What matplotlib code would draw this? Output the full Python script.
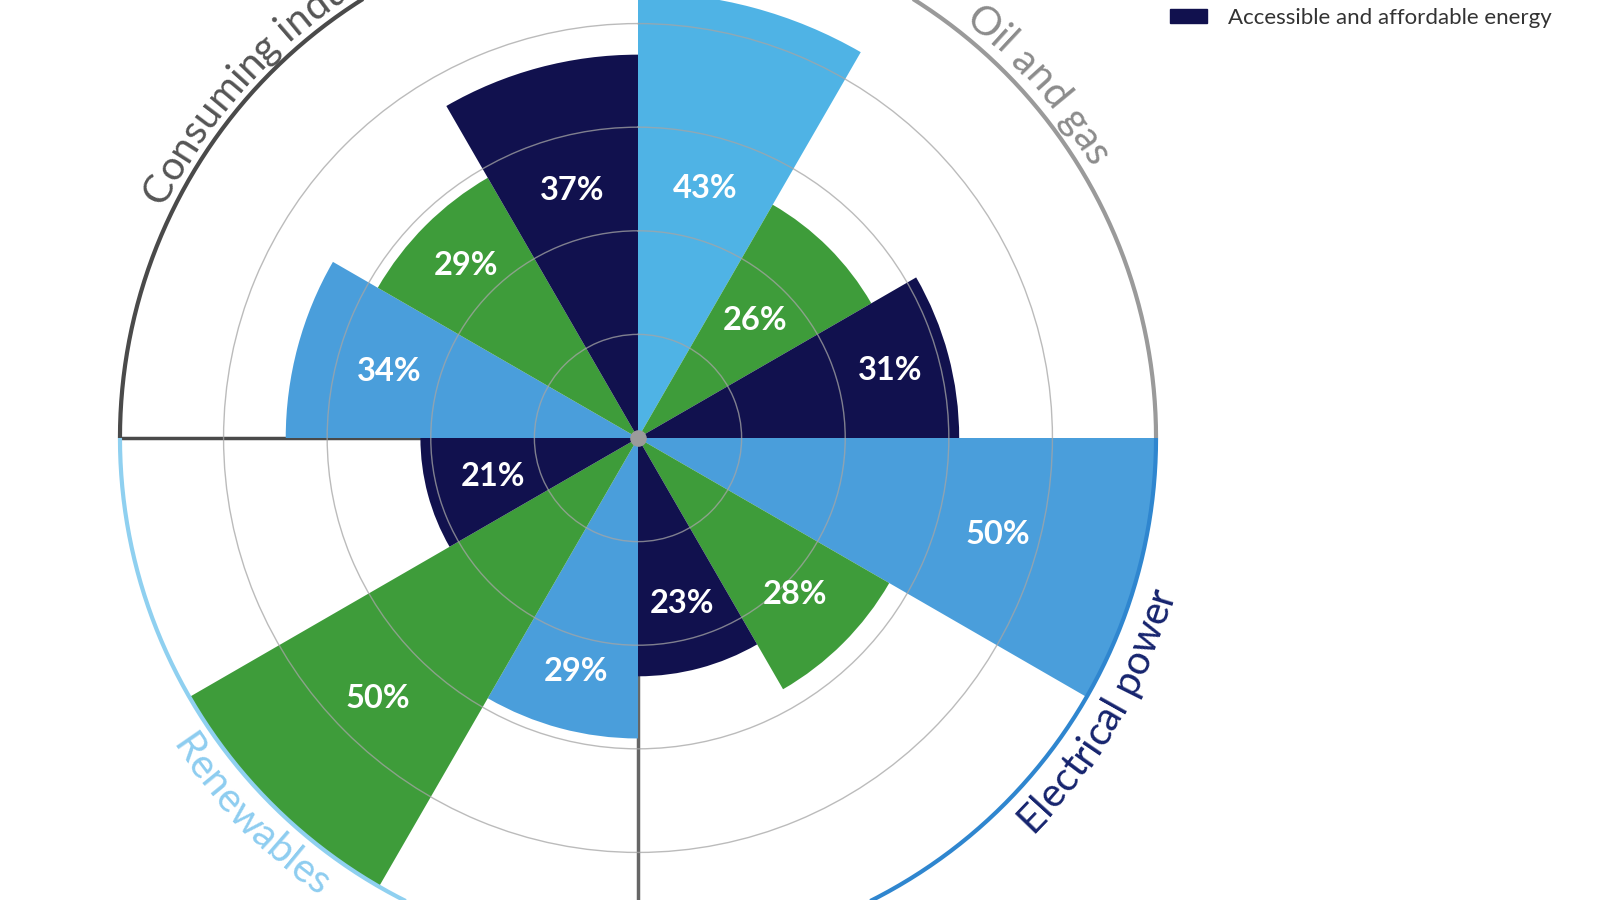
import numpy as np
import matplotlib
matplotlib.use('Agg')
import matplotlib.pyplot as plt
from matplotlib.patches import Patch
from matplotlib import font_manager
from matplotlib.font_manager import FontProperties

plt.rcParams['font.family'] = ['Lato', 'DejaVu Sans']

# data (clockwise from north: one quadrant per sector, three bars each)
sectors = ['Oil and gas', 'Electrical power', 'Renewables', 'Consuming industries']
blue_vals = [43, 50, 29, 34]
green_vals = [26, 28, 50, 29]
navy_vals = [31, 23, 21, 37]
navy_name = 'Accessible and affordable energy'

# layout / style
blue_cols = ['#4fb3e5', '#4a9edb', '#4a9edb', '#4a9edb']
green_col = '#3e9c3a'
navy_col = '#11114e'
arc_cols = ['#9a9a9a', '#2f86cf', '#8fd0f0', '#4a4a4a']
text_cols = ['#8c8c8c', '#16246e', '#8ecdf0', '#555555']
label_r = [[24.9, 36.0, 23.3, 24.9],   # blue
           [16.0, 21.4, 35.5, 23.5],   # green
           [25.2, 16.5, 14.5, 24.7]]   # navy

R_MAX = 54.05
AX_PX = 1120
PX_PER = (AX_PX / 2) / R_MAX
CX, CY = 638, 438

fig = plt.figure(figsize=(16, 9), dpi=100)
ax = fig.add_axes([(CX - AX_PX / 2) / 1600, (900 - CY - AX_PX / 2) / 900,
                   AX_PX / 1600, AX_PX / 900], projection='polar')
ax.set_theta_zero_location('N')
ax.set_theta_direction(-1)
ax.set_ylim(0, R_MAX)
ax.spines['polar'].set_visible(False)
ax.set_xticks([])
ax.set_yticks([10, 20, 30, 40])
ax.set_yticklabels([])
ax.yaxis.grid(True, color='#a5a5a5', lw=1, alpha=0.75)
ax.set_axisbelow(False)
ax.patch.set_alpha(0)

width = np.pi / 6
series = [(blue_vals, blue_cols), (green_vals, [green_col] * 4), (navy_vals, [navy_col] * 4)]
for j, (vals, cols) in enumerate(series):
    theta = np.radians(np.arange(4) * 90 + j * 30)
    ax.bar(theta, vals, width=width, align='edge', color=cols, edgecolor='none', zorder=1,
           label=navy_name if j == 2 else None)
    for i, v in enumerate(vals):
        mid = theta[i] + width / 2
        ax.text(mid, label_r[j][i], f'{v}%', ha='center', va='center', color='white',
                fontsize=23.5, fontweight='bold', zorder=4)

# quadrant brackets
for i, col in enumerate(arc_cols):
    th = np.radians(np.linspace(i * 90, (i + 1) * 90, 200))
    ax.plot(th, np.full_like(th, 50), color=col, lw=3, solid_capstyle='butt', zorder=3)
ax.plot([np.radians(270)] * 2, [0, 50], color='#4a4a4a', lw=2.5, zorder=0.9)
ax.plot([np.pi] * 2, [0, 50], color='#666666', lw=2.5, zorder=0.9)
ax.scatter([0], [0], s=120, color='#9b9b9b', zorder=5)


def arc_text(s, theta_deg, r_pct, size, color, upper, anchor='center'):
    prop = FontProperties(family='Lato', size=size)
    ft = font_manager.get_font(font_manager.findfont(prop))
    ft.set_size(size, 100)
    adv = [ft.load_char(ord(c)).linearHoriAdvance / 65536 for c in s]
    r_px = r_pct * PX_PER
    pos = -sum(adv) / 2 if anchor == 'center' else -adv[0] / 2
    for c, a in zip(s, adv):
        off = np.degrees((pos + a / 2) / r_px)
        pos += a
        if c == ' ':
            continue
        th = theta_deg + off if upper else theta_deg - off
        rot = -th if upper else 180 - th
        ax.text(np.radians(th), r_pct, c, rotation=rot, rotation_mode='anchor',
                ha='center', va='baseline', fontproperties=prop, color=color, zorder=5)


arc_text(sectors[0], 48.6, 50.9, 29, text_cols[0], True)
arc_text(sectors[1], 120.6, 53.9, 29, text_cols[1], False)
arc_text(sectors[2], 225.8, 53.9, 29, text_cols[2], False)
arc_text(sectors[3], 297.4, 50.9, 29, text_cols[3], True, anchor='start')

fig.legend(handles=[Patch(color=navy_col)], labels=[navy_name], loc='center left',
           bbox_to_anchor=(1170 / 1600, 1 - 18 / 900), frameon=False, fontsize=16,
           handlelength=1.65, handleheight=0.63, handletextpad=0.95, borderpad=0,
           borderaxespad=0, labelcolor='#333333')

fig.savefig('out.png', dpi=100)
